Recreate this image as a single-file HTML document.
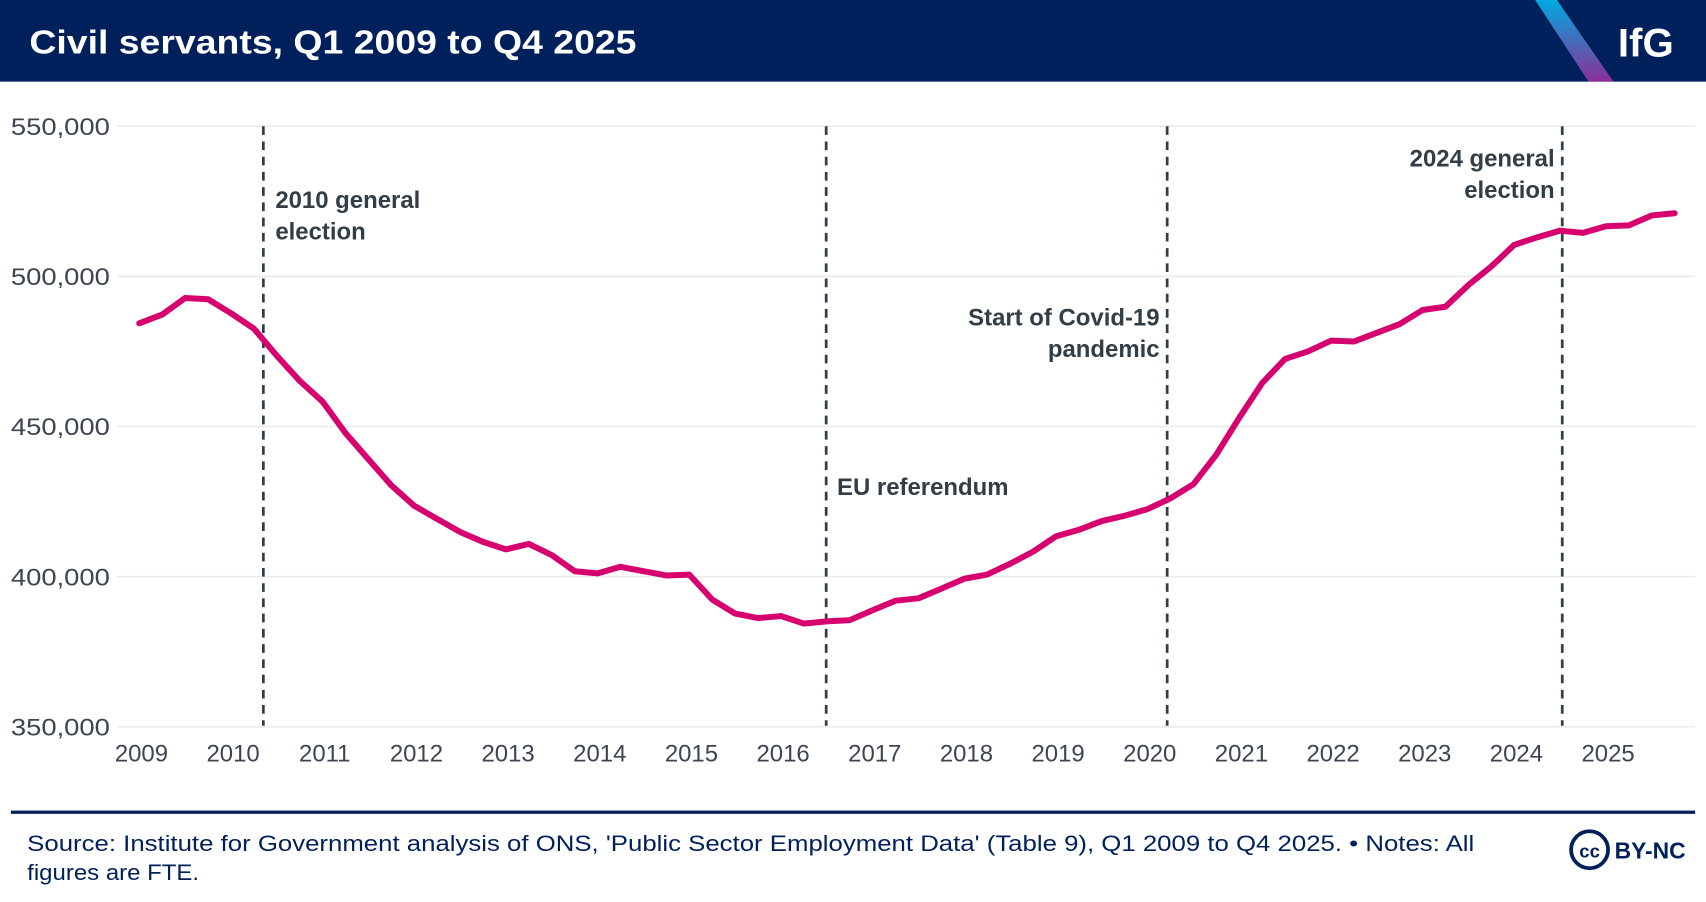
<!DOCTYPE html>
<html><head><meta charset="utf-8"><style>
html,body{margin:0;padding:0;background:#fff;}
svg{display:block;font-family:"Liberation Sans",sans-serif;}
</style></head><body>
<svg id="chart" width="1706" height="902" viewBox="0 0 1568 829" xmlns="http://www.w3.org/2000/svg">
<defs><linearGradient id="stripe" x1="0" y1="0" x2="0" y2="1"><stop offset="0" stop-color="#00a9e0"/><stop offset="1" stop-color="#8b2f98"/></linearGradient></defs>
<rect x="0" y="0" width="1568" height="75" fill="#00205b"/>
<polygon points="1411,0 1431,0 1483,75 1460,75" fill="url(#stripe)"/>
<text x="27" y="49" fill="#fff" font-size="31" font-weight="bold" textLength="558" lengthAdjust="spacingAndGlyphs">Civil servants, Q1 2009 to Q4 2025</text>
<text x="1487" y="52" fill="#fff" font-size="37" font-weight="bold">IfG</text>
<g id="grid"></g><g id="vlines"></g><g id="xt"></g>
<path id="line" fill="none" stroke="#d6006f" stroke-width="5.5" stroke-linejoin="round" stroke-linecap="round"/>
<g id="annot" font-size="22" font-weight="bold" fill="#333d47"></g>
<rect x="10" y="745" width="1548" height="3" fill="#00205b"/>
<text font-size="20.5" fill="#00205b"><tspan x="25" y="782" textLength="1330" lengthAdjust="spacingAndGlyphs">Source: Institute for Government analysis of ONS, 'Public Sector Employment Data' (Table 9), Q1 2009 to Q4 2025. • Notes: All</tspan><tspan x="25" y="809" textLength="158" lengthAdjust="spacingAndGlyphs">figures are FTE.</tspan></text>
<g>
<circle cx="1461" cy="781" r="17" fill="#fff" stroke="#00205b" stroke-width="3.5"/>
<text x="1461" y="788" font-size="17" font-weight="bold" fill="#00205b" text-anchor="middle">cc</text>
<text x="1484" y="789" font-size="21" font-weight="bold" fill="#00205b">BY-NC</text>
</g>
</svg>
<script>
const values=[484.4,487.3,492.8,492.4,487.7,482.6,473.6,465.2,458.3,447.8,439.1,430.4,423.6,419.2,414.9,411.6,409.1,410.9,407.2,401.8,401.1,403.3,401.8,400.4,400.7,392.4,387.7,386.2,386.9,384.4,385.1,385.5,388.8,392.0,392.8,396.0,399.3,400.7,404.3,408.3,413.4,415.6,418.5,420.3,422.5,426.1,430.8,440.6,452.9,464.5,472.5,475.0,478.6,478.3,481.2,484.1,488.8,489.9,497.1,503.3,510.5,513.0,515.2,514.5,516.7,517.0,520.3,521.0];
const yTicks=[350000,400000,450000,500000,550000];
const xYears=[2009,2010,2011,2012,2013,2014,2015,2016,2017,2018,2019,2020,2021,2022,2023,2024,2025];
const eventYears=[2010.33,2016.47,2020.19,2024.5];
const eventLabels=[["2010 general","election"],["EU referendum"],["Start of Covid-19","pandemic"],["2024 general","election"]];
const NS="http://www.w3.org/2000/svg";
const xs=yr=>130+(yr-2009)*84.25;
const ys=v=>116+(550000-v)/50000*138;
function mk(t,a,p){const e=document.createElementNS(NS,t);for(const k in a)e.setAttribute(k,a[k]);p.appendChild(e);return e;}
const grid=document.getElementById('grid');
yTicks.forEach(v=>{
 const l=mk('line',{x1:108,x2:1558,y1:ys(v),y2:ys(v),stroke:'#ebebeb','stroke-width':1.5},grid);
 
 
 const t=mk('text',{x:101,y:ys(v)+8,'text-anchor':'end','font-size':22,fill:'#3d4550',textLength:91,lengthAdjust:'spacingAndGlyphs'},grid);
 t.textContent=v.toLocaleString('en-GB');
 
 
});
const xt=document.getElementById('xt');
xYears.forEach(y=>{
 const t=mk('text',{x:xs(y),y:700,'text-anchor':'middle','font-size':22,fill:'#3d4550'},xt);
 t.textContent=y;
 
 
});
const vl=document.getElementById('vlines'),an=document.getElementById('annot');
const labelPos=[{dx:11,y:191,a:'start'},{dx:10,y:455,a:'start'},{dx:-7,y:299,a:'end'},{dx:-7,y:153,a:'end'}];
eventYears.forEach((y,i)=>{
 const l=mk('line',{x1:xs(y),x2:xs(y),y1:116,y2:667,stroke:'#333d47','stroke-width':2.5,'stroke-dasharray':'8,6'},vl);
 
 
 const p=labelPos[i];
 const t=mk('text',{'text-anchor':p.a},an);
 
 
 eventLabels[i].forEach((s,j)=>{const ts=mk('tspan',{x:xs(y)+p.dx,y:p.y+j*29},t);ts.textContent=s;});
});
document.getElementById('line').setAttribute('d',values.map((v,i)=>(i?'L':'M')+(xs(2009+i/4)-2).toFixed(1)+','+ys(v*1000).toFixed(1)).join(''));
</script>
</body></html>
